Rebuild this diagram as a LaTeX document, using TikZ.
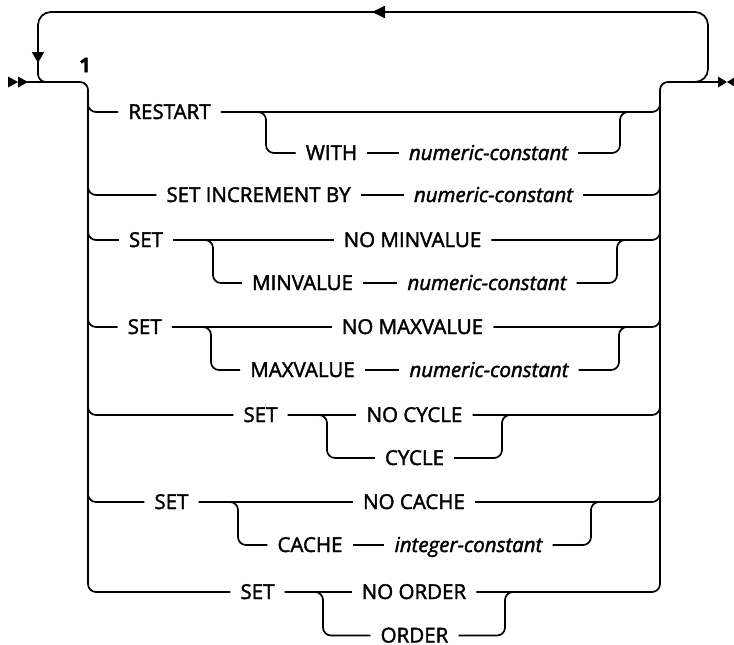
\documentclass[tikz,border=0pt]{standalone}
\usepackage{fontspec}
\setmainfont{Open Sans}[RawFeature={embolden=1.9}]
\usetikzlibrary{arrows.meta}

\begin{document}
\begin{tikzpicture}[x=1pt, y=-1pt,
  track/.style={line width=1.7pt, rounded corners=8pt},
  loop/.style={line width=1.7pt, rounded corners=13pt},
  kw/.style={inner xsep=10pt, inner ysep=0pt, text height=14pt, text depth=0pt, font=\fontsize{20.5}{24}\selectfont},
  var/.style={kw, font=\fontsize{20.5}{24}\selectfont\itshape},
  note/.style={inner sep=0pt, font=\fontsize{20}{22}\selectfont\bfseries}]
\useasboundingbox (0,0) rectangle (734,645);
% rails
\coordinate (entry) at (27,82);
\coordinate (lrail) at (88,82);
\coordinate (rrail) at (660,82);
\coordinate (exit) at (718,82);
% keywords and variables
\node[note] (fn) at (85,65) {1};
\node[kw] (restart) at (169.5,112) {RESTART};
\node[kw] (with) at (331.5,153) {WITH};
\node[var] (numa) at (488.5,153) {numeric-constant};
\node[kw] (incr) at (258.5,195) {SET INCREMENT BY};
\node[var] (numb) at (493.5,195) {numeric-constant};
\node[kw] (setmin) at (146,240) {SET};
\node[kw] (nomin) at (412.5,240) {NO MINVALUE};
\node[kw] (minv) at (302.5,283) {MINVALUE};
\node[var] (numc) at (487,283) {numeric-constant};
\node[kw] (setmax) at (144.7,327) {SET};
\node[kw] (nomax) at (412.5,327) {NO MAXVALUE};
\node[kw] (maxv) at (302.5,370) {MAXVALUE};
\node[var] (numd) at (489,370) {numeric-constant};
\node[kw] (setcyc) at (260.5,415) {SET};
\node[kw] (nocyc) at (414.5,415) {NO CYCLE};
\node[kw] (cyc) at (414.5,458) {CYCLE};
\node[kw] (setcache) at (171.5,502) {SET};
\node[kw] (nocache) at (414,502) {NO CACHE};
\node[kw] (cache) at (310,545) {CACHE};
\node[var] (intc) at (468.5,545) {integer-constant};
\node[kw] (setord) at (257.5,592) {SET};
\node[kw] (noord) at (414,592) {NO ORDER};
\node[kw] (ord) at (414.5,635.5) {ORDER};
% start and end marks
\fill (8,76.5) -- (18,82) -- (8,87.5) -- cycle;
\fill (18,76.5) -- (28,82) -- (18,87.5) -- cycle;
\fill (718,76.5) -- (727,82) -- (718,87.5) -- cycle;
\fill (736,76.5) -- (727,82) -- (736,87.5) -- cycle;
% repeat loop
\draw[loop, -{Triangle[length=13pt, width=12pt]}] (690,82) -| (708,12) -- (372,12);
\draw[loop, -{Triangle[length=11pt, width=12pt]}] (385,12) -| (38,63);
\draw[track] (38,60) |- (52,82);
% main trunk
\draw[track] (entry) -- (lrail) |- (setord.west);
\draw[track] (noord.east) -| (rrail) -- (exit);
% RESTART
\draw[track] (88,100) |- (restart.west);
\draw[track] (restart.east) -| (660,100);
\draw[track] (restart.east) -| (266,153) -- (with.west);
\draw[track] (with.east) -- (numa.west);
\draw[track] (numa.east) -| (620,112) -- (640,112);
% SET INCREMENT BY
\draw[track] (88,180) |- (incr.west);
\draw[track] (incr.east) -- (numb.west);
\draw[track] (numb.east) -| (660,180);
% MINVALUE
\draw[track] (88,225) |- (setmin.west);
\draw[track] (setmin.east) -- (nomin.west);
\draw[track] (nomin.east) -| (660,225);
\draw[track] (setmin.east) -| (213,283) -- (minv.west);
\draw[track] (minv.east) -- (numc.west);
\draw[track] (numc.east) -| (617,240) -- (640,240);
% MAXVALUE
\draw[track] (88,312) |- (setmax.west);
\draw[track] (setmax.east) -- (nomax.west);
\draw[track] (nomax.east) -| (660,312);
\draw[track] (setmax.east) -| (211,370) -- (maxv.west);
\draw[track] (maxv.east) -- (numd.west);
\draw[track] (numd.east) -| (619,327) -- (640,327);
% CYCLE
\draw[track] (88,400) |- (setcyc.west);
\draw[track] (setcyc.east) -- (nocyc.west);
\draw[track] (nocyc.east) -| (660,400);
\draw[track] (setcyc.east) -| (327,458) -- (cyc.west);
\draw[track] (cyc.east) -| (502,415) -- (525,415);
% CACHE
\draw[track] (88,487) |- (setcache.west);
\draw[track] (setcache.east) -- (nocache.west);
\draw[track] (nocache.east) -| (660,487);
\draw[track] (setcache.east) -| (238,545) -- (cache.west);
\draw[track] (cache.east) -- (intc.west);
\draw[track] (intc.east) -| (591,502) -- (612,502);
% ORDER
\draw[track] (setord.east) -- (noord.west);
\draw[track] (setord.east) -| (323,635.5) -- (ord.west);
\draw[track] (ord.east) -| (505,592) -- (525,592);
\end{tikzpicture}
\end{document}
